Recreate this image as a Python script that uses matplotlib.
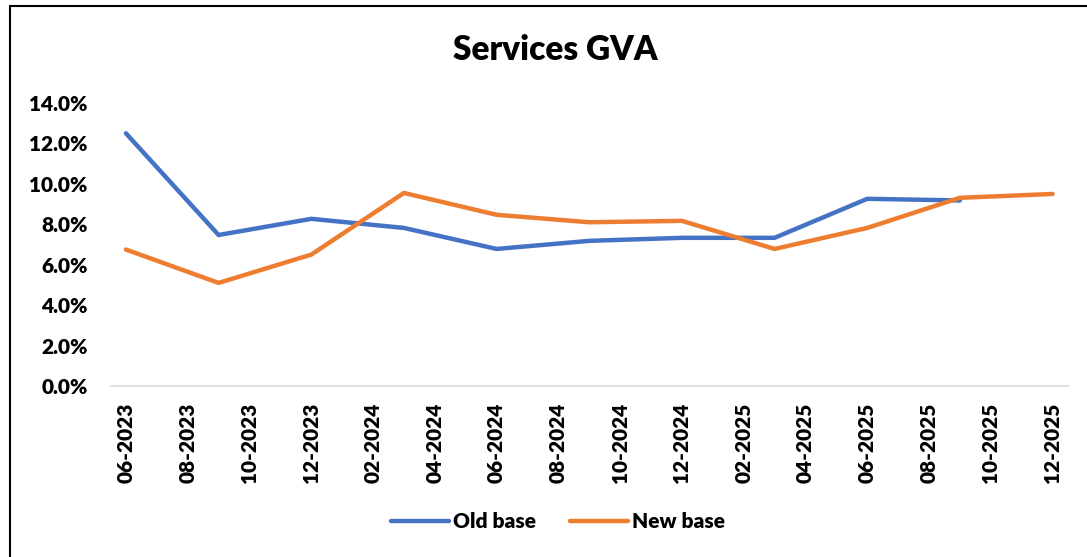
import matplotlib
matplotlib.use("Agg")
import matplotlib.pyplot as plt
from matplotlib.patches import Rectangle

plt.rcParams['font.family'] = ['Lato', 'DejaVu Sans']

# Months since 06-2023 for each quarterly observation
months_old = [0, 3, 6, 9, 12, 15, 18, 21, 24, 27]
old_base = [12.5, 7.47, 8.27, 7.82, 6.78, 7.18, 7.33, 7.33, 9.26, 9.18]

months_new = [0, 3, 6, 9, 12, 15, 18, 21, 24, 27, 30]
new_base = [6.75, 5.1, 6.5, 9.55, 8.47, 8.1, 8.17, 6.78, 7.82, 9.31, 9.5]

tick_months = list(range(0, 31, 2))
tick_labels = ["06-2023", "08-2023", "10-2023", "12-2023", "02-2024", "04-2024",
               "06-2024", "08-2024", "10-2024", "12-2024", "02-2025", "04-2025",
               "06-2025", "08-2025", "10-2025", "12-2025"]
y_ticks = [0, 2, 4, 6, 8, 10, 12, 14]

W, H = 1087, 557
fig = plt.figure(figsize=(W / 100, H / 100), dpi=100)
ax = fig.add_axes([110.5 / W, 1 - 386 / H, (1068 - 110.5) / W, (386 - 103) / H])

ax.plot(months_old, old_base, color="#4472C4", lw=3.2, solid_capstyle="round",
        solid_joinstyle="round", label="Old base")
ax.plot(months_new, new_base, color="#ED7D31", lw=3.2, solid_capstyle="round",
        solid_joinstyle="round", label="New base")

FS = 15
ax.set_xlim(-0.5, 30.5)
ax.set_ylim(0, 14)
ax.set_yticks(y_ticks)
ax.set_yticklabels([f"{v:.1f}%" for v in y_ticks], fontsize=FS, fontweight="heavy")
ax.set_xticks(tick_months)
ax.set_xticklabels(tick_labels, rotation=90, fontsize=FS, fontweight="heavy")
ax.tick_params(axis="both", length=0)
ax.tick_params(axis="y", pad=16.5)
ax.tick_params(axis="x", pad=12)

for s in ["top", "right", "left"]:
    ax.spines[s].set_visible(False)
ax.spines["bottom"].set_color("#D9D9D9")
ax.spines["bottom"].set_linewidth(1.2)

fig.text(555 / W, 1 - 50 / H, "Services GVA", ha="center", va="center",
         fontsize=24, fontweight="heavy")

leg = fig.legend(loc="center", bbox_to_anchor=(558 / W, 1 - 522 / H), ncol=2,
                 frameon=False, prop={"weight": "heavy", "size": FS},
                 handlelength=2.8, handletextpad=0.2, columnspacing=1.6)

fig.patches.append(Rectangle((9.5 / W, -0.01), 1.05, 1 - 5.5 / H + 0.01,
                             transform=fig.transFigure, fill=False,
                             edgecolor="black", lw=1.5, clip_on=False))

fig.savefig("out.png", dpi=100)
